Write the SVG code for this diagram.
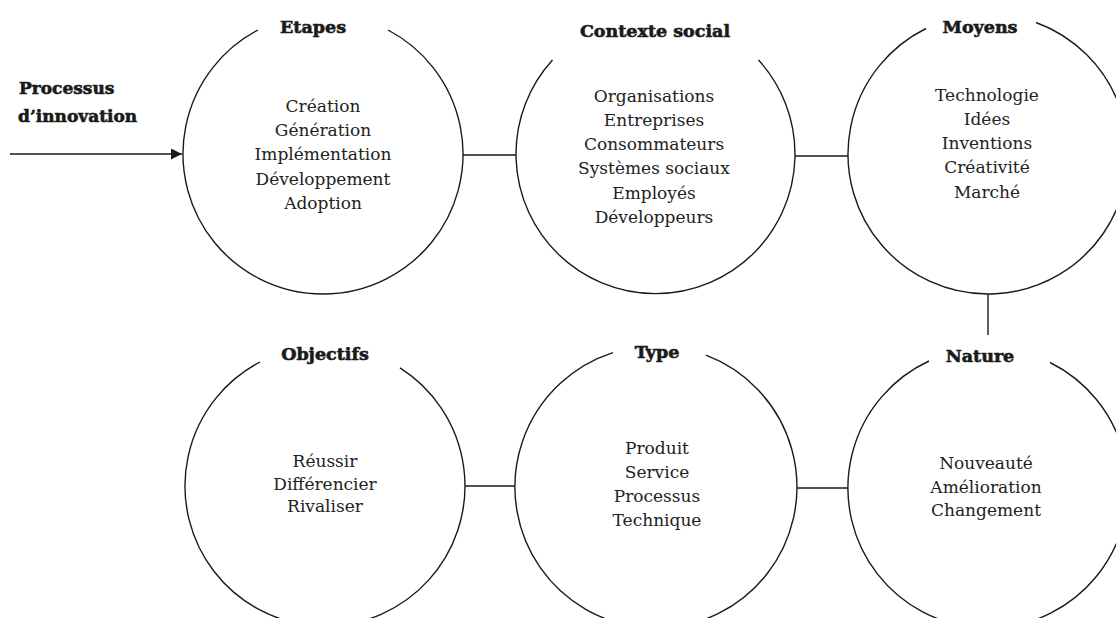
<svg xmlns="http://www.w3.org/2000/svg" width="1116" height="618" viewBox="0 0 1116 618">
<style>
.ring{fill:none;stroke:#1a1a1a;stroke-width:1.4}
.conn{fill:none;stroke:#1a1a1a;stroke-width:1.4}
.title{font-family:"DejaVu Serif",serif;font-weight:bold;font-size:17.5px;fill:#1a1a1a;stroke:#1a1a1a;stroke-width:0.6;text-anchor:middle}
.body{font-family:"DejaVu Serif",serif;font-size:17px;fill:#222;text-anchor:middle}
</style>
<defs>
<marker id="arr" viewBox="0 0 10 10" refX="10" refY="5" markerWidth="11" markerHeight="11" markerUnits="userSpaceOnUse" orient="auto">
<path d="M0 0 L10 5 L0 10 Z" fill="#1a1a1a"/>
</marker>
</defs>
<rect width="1116" height="618" fill="#fff"/>
<g id="connectors">
<path class="conn" d="M10 154 H182" marker-end="url(#arr)"/>
<path class="conn" d="M463 155 H516"/>
<path class="conn" d="M795 156 H848"/>
<path class="conn" d="M988 294 V335"/>
<path class="conn" d="M465 486 H515"/>
<path class="conn" d="M797 488 H848"/>
</g>
<g id="processus">
<text class="title" style="text-anchor:start;font-size:17px" x="19" y="94">Processus</text>
<text class="title" style="text-anchor:start;font-size:17px" x="18" y="122">d’innovation</text>
</g>
<g id="etapes">
<path class="ring" d="M388 30 A140 140 0 1 1 258 30"/>
<text class="title" x="313" y="33">Etapes</text>
<text class="body" x="323" y="112">Création</text>
<text class="body" x="323" y="136">Génération</text>
<text class="body" x="323" y="160">Implémentation</text>
<text class="body" x="323" y="185">Développement</text>
<text class="body" x="323" y="209">Adoption</text>
</g>
<g id="contexte">
<path class="ring" d="M758.5 60 A139.5 139.5 0 1 1 552.5 60"/>
<text class="title" x="655" y="37">Contexte social</text>
<text class="body" x="654" y="102">Organisations</text>
<text class="body" x="654" y="126">Entreprises</text>
<text class="body" x="654" y="150">Consommateurs</text>
<text class="body" x="654" y="174">Systèmes sociaux</text>
<text class="body" x="654" y="199">Employés</text>
<text class="body" x="654" y="223">Développeurs</text>
</g>
<g id="moyens">
<path class="ring" d="M1036 22.5 A140 140 0 1 1 926 28.5"/>
<text class="title" x="980" y="33">Moyens</text>
<text class="body" x="987" y="101">Technologie</text>
<text class="body" x="987" y="125">Idées</text>
<text class="body" x="987" y="149">Inventions</text>
<text class="body" x="987" y="173">Créativité</text>
<text class="body" x="987" y="198">Marché</text>
</g>
<g id="objectifs">
<path class="ring" d="M400 367.8 A140 140 0 1 1 260 362"/>
<text class="title" x="325" y="360">Objectifs</text>
<text class="body" x="325" y="467">Réussir</text>
<text class="body" x="325" y="490">Différencier</text>
<text class="body" x="325" y="512">Rivaliser</text>
</g>
<g id="type">
<path class="ring" d="M706 355.2 A141 141 0 1 1 613 352.7"/>
<text class="title" x="657" y="358">Type</text>
<text class="body" x="657" y="454">Produit</text>
<text class="body" x="657" y="478">Service</text>
<text class="body" x="657" y="502">Processus</text>
<text class="body" x="657" y="526">Technique</text>
</g>
<g id="nature">
<path class="ring" d="M1050 362.5 A140 140 0 1 1 929 361"/>
<text class="title" x="980" y="362">Nature</text>
<text class="body" x="986" y="469">Nouveauté</text>
<text class="body" x="986" y="493">Amélioration</text>
<text class="body" x="986" y="516">Changement</text>
</g>
</svg>
